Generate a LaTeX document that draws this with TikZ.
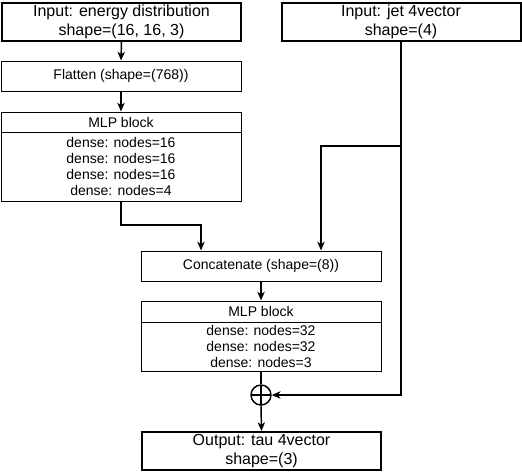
\documentclass[tikz,border=0pt]{standalone}
\usepackage{fontspec}
\setmainfont{Liberation Sans}
\usetikzlibrary{arrows.meta,calc}

\tikzset{
  box/.style={draw=black, line width=0.75pt, minimum width=180pt, inner sep=0pt, align=center, font=\fontsize{10.5}{12}\selectfont},
  thickbox/.style={box, line width=1.5pt, minimum width=179.25pt, minimum height=28.5pt, font=\fontsize{12}{14.25}\selectfont},
  conn/.style={line width=1.1pt, -{Stealth[length=6.5pt,width=5.5pt,inset=1.8pt]}},
  plain/.style={line width=1.1pt},
  plusnode/.style={circle, draw=black, line width=1.1pt, minimum size=15pt, inner sep=0pt,
    path picture={\draw[line width=1.1pt] (path picture bounding box.north) -- (path picture bounding box.south)
      (path picture bounding box.west) -- (path picture bounding box.east);}},
}

\begin{document}
\begin{tikzpicture}[x=0.75pt,y=-0.75pt]
\useasboundingbox (0,0) rectangle (522,472);

\node[thickbox] (in1) at (121.5,21.5) {Input: energy distribution\\shape=(16, 16, 3)};
\node[thickbox] (in2) at (401,21.5) {Input: jet 4vector\\shape=(4)};
\node[box, minimum height=22.5pt] (flat) at (121,76) {Flatten (shape=(768))};
\node[box, minimum height=15pt] (mlp1h) at (121,122) {MLP block};
\node[box, minimum height=51.75pt] (mlp1b) at (121,166.5) {dense: nodes=16\\dense: nodes=16\\dense: nodes=16\\dense: nodes=4};
\node[box, minimum height=22.5pt] (concat) at (261,266) {Concatenate (shape=(8))};
\node[box, minimum height=15.75pt] (mlp2h) at (261,311.5) {MLP block};
\node[box, minimum height=36.75pt] (mlp2b) at (261,346.5) {dense: nodes=32\\dense: nodes=32\\dense: nodes=3};
\node[plusnode] (circ) at (261,395) {};
\node[thickbox] (out) at (261.5,451) {Output: tau 4vector\\shape=(3)};

\coordinate (e1) at (201,225);
\coordinate (e2) at (321,146);

\draw[conn] (in1.south) -- (flat.north);
\draw[conn] (flat.south) -- (mlp1h.north);
\draw[conn] (mlp1b.south) |- (e1) -- (e1 |- concat.north);
\draw[conn] (in2.south) |- (e2) -- (e2 |- concat.north);
\draw[conn] (in2.south) |- (circ.east);
\draw[conn] (concat.south) -- (mlp2h.north);
\draw[plain] (mlp2b.south) -- (circ.north);
\draw[conn] (circ.south) -- (out.north);
\end{tikzpicture}
\end{document}
